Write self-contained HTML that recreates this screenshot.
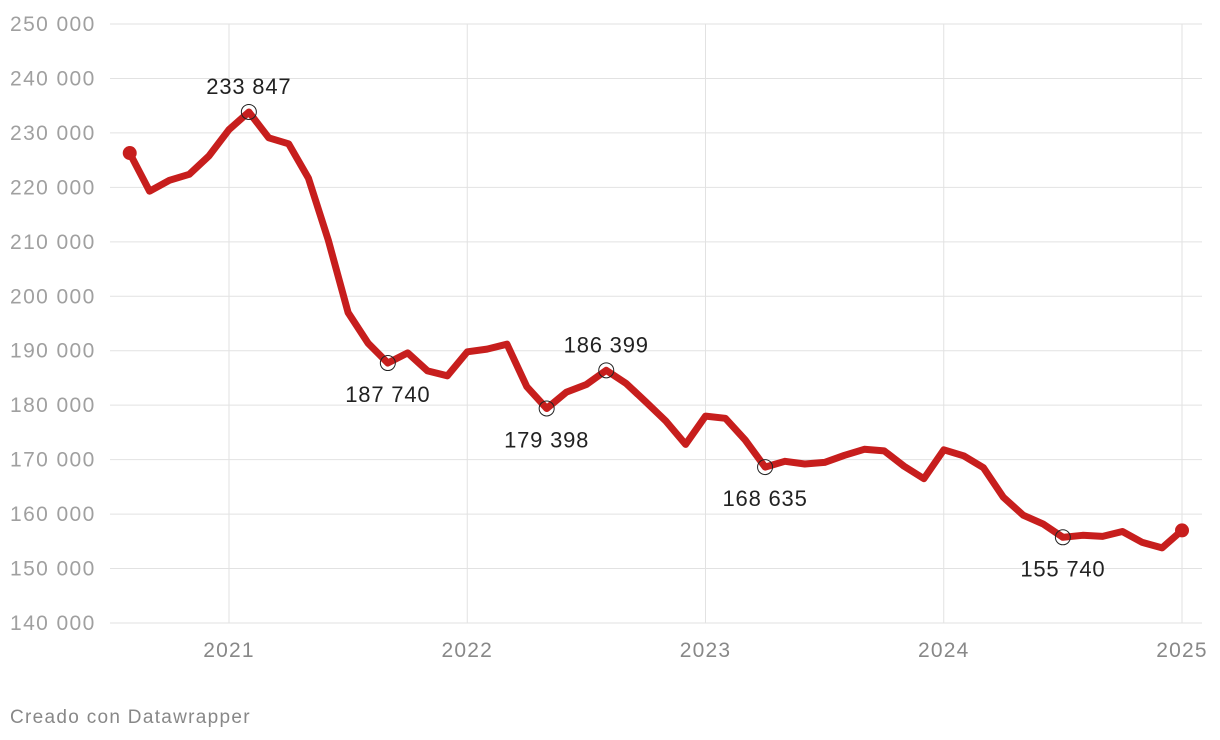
<!DOCTYPE html>
<html><head><meta charset="utf-8"><style>
body{margin:0;background:#fff;font-family:"Liberation Sans",Roboto,sans-serif}
svg{display:block}
</style></head><body>
<svg id="chart" width="1220" height="740"></svg>
<script>
const months=["2020-08","2020-09","2020-10","2020-11","2020-12","2021-01","2021-02","2021-03","2021-04","2021-05","2021-06","2021-07","2021-08","2021-09","2021-10","2021-11","2021-12","2022-01","2022-02","2022-03","2022-04","2022-05","2022-06","2022-07","2022-08","2022-09","2022-10","2022-11","2022-12","2023-01","2023-02","2023-03","2023-04","2023-05","2023-06","2023-07","2023-08","2023-09","2023-10","2023-11","2023-12","2024-01","2024-02","2024-03","2024-04","2024-05","2024-06","2024-07","2024-08","2024-09","2024-10","2024-11","2024-12","2025-01"];
const values=[226300,219300,221300,222400,225800,230600,233847,229100,228000,221700,210300,197000,191400,187740,189600,186300,185400,189800,190300,191200,183400,179398,182400,183800,186399,184000,180600,177100,172800,178000,177600,173600,168635,169700,169200,169500,170800,171900,171600,168800,166500,171800,170700,168500,163100,159800,158200,155740,156100,155900,156800,154800,153800,157000];
const yTicks=[140000,150000,160000,170000,180000,190000,200000,210000,220000,230000,240000,250000];
const xTicks=[2021,2022,2023,2024,2025];
const annotated=[6,13,21,24,32,47];
const annPos=["above","below","below","above","below","below"];

const NS="http://www.w3.org/2000/svg";
const svg=document.getElementById('chart');
function y(v){return 24+(250000-v)/110000*599;}
function xm(m){const [yr,mo]=m.split('-').map(Number);return 229+((yr-2021)*12+(mo-1))*238.25/12;}
function xy(yr){return 229+(yr-2021)*238.25;}
function el(t,a,p){const e=document.createElementNS(NS,t);for(const k in a)e.setAttribute(k,a[k]);(p||svg).appendChild(e);return e;}
function fmt(v){return String(v).replace(/\B(?=(\d{3})+(?!\d))/g,' ');}

yTicks.forEach(v=>{
  const l=el('line',{x1:110,x2:1202,y1:y(v),y2:y(v),stroke:'#e2e2e2','stroke-width':1});
  
  
  const t=el('text',{x:10,y:y(v)+7,fill:'#a0a0a0','font-size':21,'letter-spacing':1.4});
  t.textContent=fmt(v);
  
  
});
xTicks.forEach(yr=>{
  const l=el('line',{x1:xy(yr),x2:xy(yr),y1:24,y2:623,stroke:'#e2e2e2','stroke-width':1});
  
  
  const t=el('text',{x:xy(yr),y:657,fill:'#888','font-size':21,'letter-spacing':1.2,'text-anchor':'middle'});
  t.textContent=yr;
  
  
});
const d=values.map((v,i)=>(i?'L':'M')+xm(months[i]).toFixed(1)+','+y(v).toFixed(1)).join('');
const p=el('path',{d:d,fill:'none',stroke:'#c71e1d','stroke-width':7,'stroke-linejoin':'round','stroke-linecap':'round'});


[0,values.length-1].forEach(i=>{
  const c=el('circle',{cx:xm(months[i]),cy:y(values[i]),r:7,fill:'#c71e1d'});
  
  
});
annotated.forEach((i,k)=>{
  const cx=xm(months[i]),cy=y(values[i]);
  const c=el('circle',{cx:cx,cy:cy,r:7.5,fill:'none',stroke:'#222','stroke-width':1});
  
  
  const t=el('text',{x:cx,y:annPos[k]==='above'?cy-18:cy+39,fill:'#222','font-size':22,'letter-spacing':0.8,'text-anchor':'middle'});
  t.textContent=fmt(values[i]);
  
  
});
const f=el('text',{x:10,y:723,fill:'#888','font-size':19,'letter-spacing':1.3});
f.textContent='Creado con Datawrapper';


</script>
</body></html>
